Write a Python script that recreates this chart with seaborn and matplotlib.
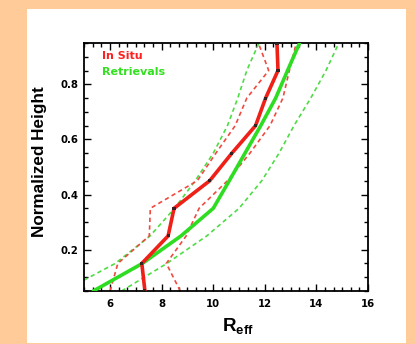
import numpy as np
import pandas as pd
import matplotlib
matplotlib.use("Agg")
import matplotlib.pyplot as plt
from matplotlib.patches import Rectangle
from matplotlib.ticker import FixedLocator
import seaborn as sns

# ---- data ----
heights = [0.05, 0.15, 0.25, 0.35, 0.45, 0.55, 0.65, 0.75, 0.85, 0.95]
insitu_med = [7.35, 7.23, 8.25, 8.48, 9.86, 10.72, 11.64, 12.03, 12.51, 12.47]
insitu_lo = [6.00, 6.30, 7.52, 7.56, 9.38, 10.10, 10.85, 11.30, 12.15, 11.75]
insitu_hi = [8.72, 8.18, 8.95, 9.45, 10.55, 11.42, 12.20, 12.70, 12.95, 13.22]
retr_med = [5.35, 7.25, 8.75, 10.00, 10.62, 11.23, 11.84, 12.42, 12.88, 13.35]
retr_lo = [4.20, 6.20, 7.55, 8.50, 9.30, 10.00, 10.55, 10.95, 11.30, 11.77]
retr_hi = [6.45, 8.20, 9.75, 11.00, 11.88, 12.55, 13.13, 13.78, 14.37, 14.87]

xticks = [6, 8, 10, 12, 14, 16]
yticks = [0.2, 0.4, 0.6, 0.8]
ytick_labels = ["0.2", "0.4", "0.6", "0.8"]
legend_labels = ["In Situ", "Retrievals"]

RED = "#EE2018"
RED_D = "#F04A40"
GREEN = "#2EDC22"
GREEN_D = "#4EDC44"

sns.set_theme(style="white")
plt.rcParams["font.family"] = ["DejaVu Sans"]
plt.rcParams["text.color"] = "black"
plt.rcParams["axes.labelcolor"] = "black"
plt.rcParams["xtick.color"] = "black"
plt.rcParams["ytick.color"] = "black"
plt.rcParams["mathtext.fontset"] = "custom"
plt.rcParams["mathtext.rm"] = "Liberation Sans:bold"
plt.rcParams["mathtext.bf"] = "Liberation Sans:bold"

fig = plt.figure(figsize=(4.16, 3.44), dpi=100)
fig.patch.set_facecolor("#FFCC99")
fig.add_artist(Rectangle((27 / 416, 1 / 344), (406 - 27) / 416, (343 - 9) / 344,
                         transform=fig.transFigure, facecolor="white",
                         edgecolor="none", zorder=0))

ax = fig.add_axes([84.3 / 416, 1 - 291 / 344, 283.7 / 416, 248 / 344])
ax.set_facecolor("white")

df = pd.DataFrame({
    "h": heights * 6,
    "r": insitu_lo + insitu_hi + retr_lo + retr_hi + retr_med + insitu_med,
    "s": (["ilo"] * 10 + ["ihi"] * 10 + ["rlo"] * 10 + ["rhi"] * 10
          + ["rmed"] * 10 + ["imed"] * 10),
})

dash = (0, (2.6, 2.0))
for key, col in [("rlo", GREEN_D), ("rhi", GREEN_D), ("ilo", RED_D), ("ihi", RED_D)]:
    sub = df[df.s == key]
    sns.lineplot(data=sub, x="r", y="h", orient="y", sort=False, estimator=None,
                 color=col, lw=1.2, linestyle=dash, ax=ax, zorder=2)

sns.lineplot(data=df[df.s == "rmed"], x="r", y="h", orient="y", sort=False,
             estimator=None, color=GREEN, lw=2.6, ax=ax, zorder=3)
sns.lineplot(data=df[df.s == "imed"], x="r", y="h", orient="y", sort=False,
             estimator=None, color=RED, lw=2.6, ax=ax, zorder=4)
sns.scatterplot(data=df[df.s == "imed"], x="r", y="h", marker="s", s=5,
                color="#3a2020", edgecolor="none", ax=ax, zorder=5)

ax.set_xlim(5, 16)
ax.set_ylim(0.05, 0.95)
ax.set_xticks(xticks)
ax.set_xticklabels([str(t) for t in xticks])
ax.set_yticks(yticks)
ax.set_yticklabels(ytick_labels)
ax.xaxis.set_minor_locator(FixedLocator([5 + k / 3 for k in range(34)]))
ax.yaxis.set_minor_locator(FixedLocator([0.05 + 0.05 * k for k in range(19)]))
ax.tick_params(which="both", direction="in", top=True, right=True,
               bottom=True, left=True, color="black", width=1.0)
ax.tick_params(which="major", length=5, labelsize=7.3, pad=4)
ax.tick_params(which="minor", length=3)
ax.tick_params(axis="x", which="major", pad=6)
for lab in ax.get_xticklabels() + ax.get_yticklabels():
    lab.set_fontweight("bold")
for sp in ax.spines.values():
    sp.set_color("black")
    sp.set_linewidth(1.3)

ax.set_xlabel(r"$\mathrm{R}_{\mathrm{eff}}$", fontsize=13.5)
ax.xaxis.set_label_coords(0.542, -0.105)
ax.set_ylabel("Normalized Height", fontsize=12.3, fontweight="bold",
              family="Liberation Sans")
ax.yaxis.set_label_coords(-0.13, 0.52)

ax.text(0.062, 0.949, legend_labels[0], transform=ax.transAxes, color="#FF2020",
        fontsize=8, fontweight="bold", va="center", ha="left")
ax.text(0.062, 0.882, legend_labels[1], transform=ax.transAxes, color="#33E020",
        fontsize=8, fontweight="bold", va="center", ha="left")

fig.savefig("out.png", dpi=100, facecolor=fig.get_facecolor())
